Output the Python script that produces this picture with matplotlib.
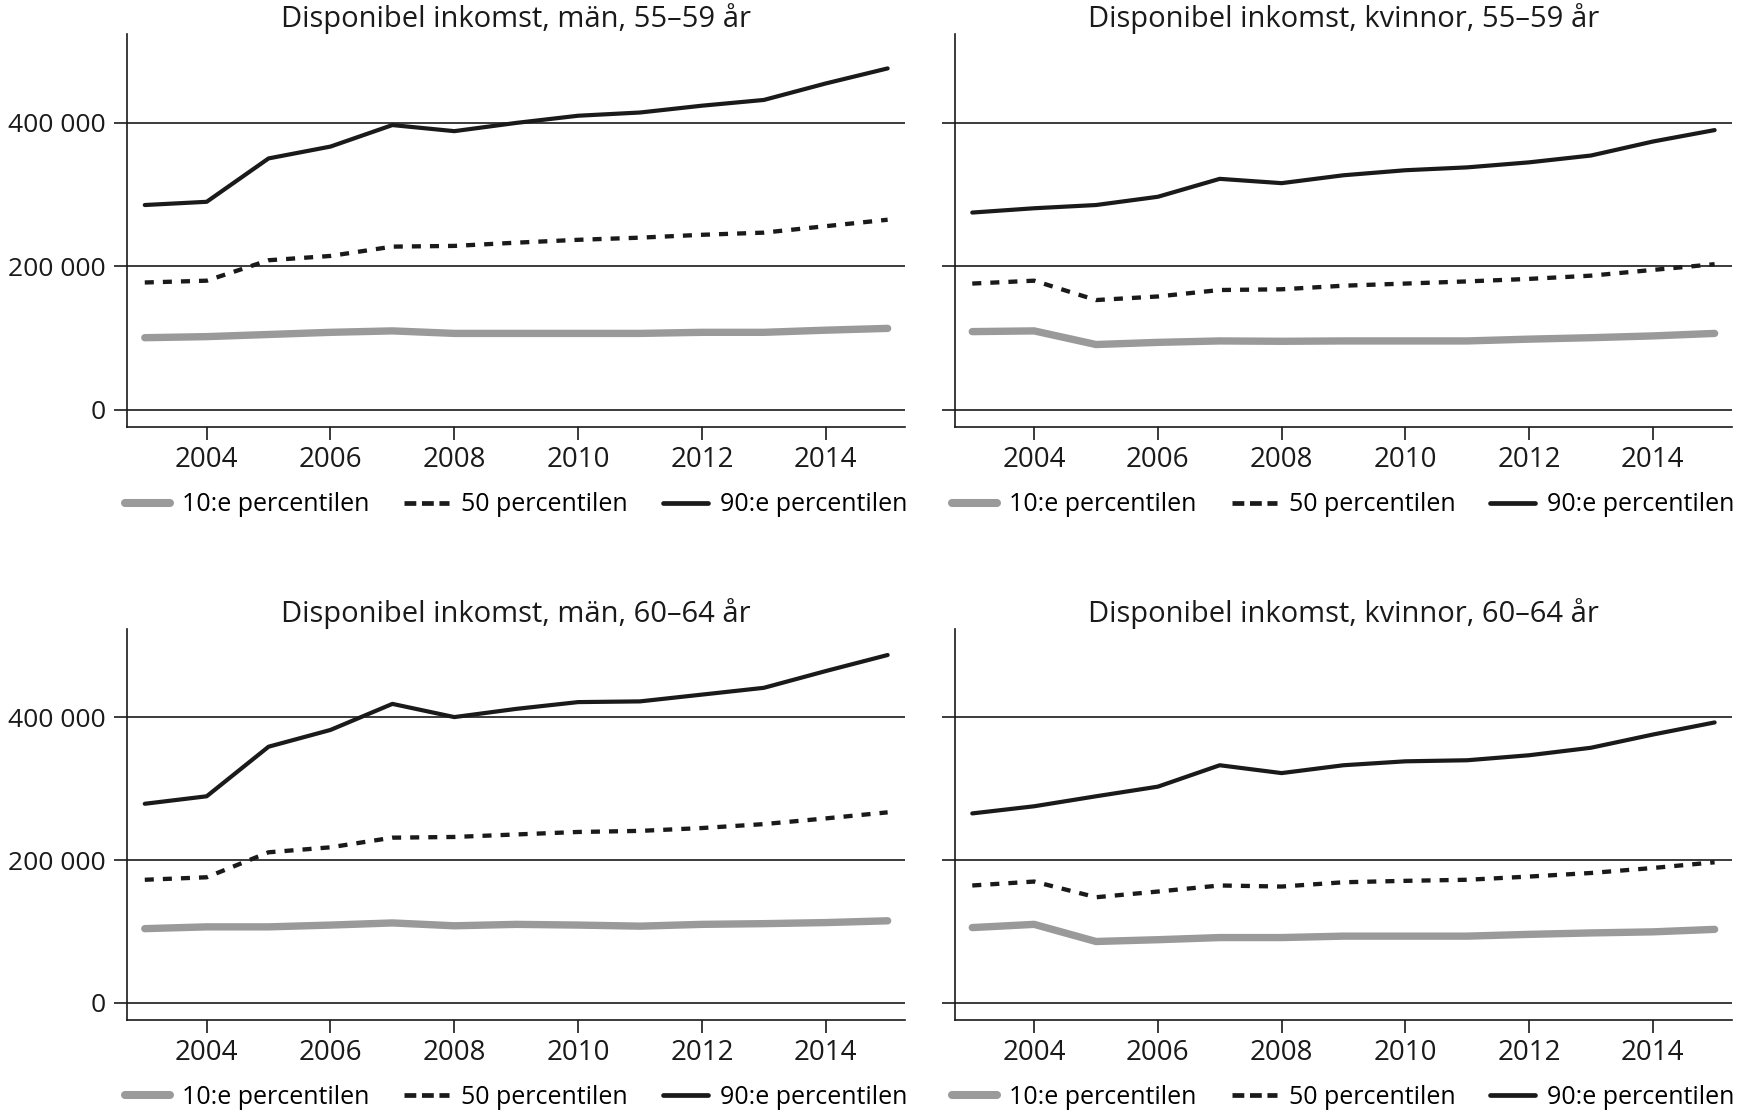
#!/usr/bin/env python
# -*- coding: utf-8 -*-
"""
Disponibel inkomst per percentil, män/kvinnor 55-59 och 60-64 år, 2003-2015.
Fyra paneler i 2x2, legend under varje panel.
"""
from __future__ import annotations

import matplotlib

matplotlib.use("Agg")
import matplotlib.pyplot as plt
from matplotlib.lines import Line2D
from matplotlib.ticker import FuncFormatter

years = list(range(2003, 2016))

men_55_p10 = [100500, 102000, 105000, 108000, 110000, 106500, 106500, 106500, 106500, 108000, 108000, 111000, 113500]
men_55_p50 = [177500, 180000, 208500, 214500, 227500, 228500, 233000, 237000, 240000, 244000, 247000, 256000, 265000]
men_55_p90 = [285500, 290000, 350500, 367000, 397000, 388500, 400000, 410000, 414500, 424000, 432000, 455000, 476000]

women_55_p10 = [109000, 110000, 91000, 94000, 96000, 95500, 96000, 96000, 96000, 98500, 100500, 103000, 106500]
women_55_p50 = [176000, 180000, 153000, 158000, 167000, 168000, 173000, 176000, 179000, 182500, 187000, 195000, 203000]
women_55_p90 = [275000, 281000, 285500, 297000, 322000, 316000, 327000, 334000, 338000, 345000, 354500, 374000, 390000]

men_60_p10 = [104000, 106500, 106500, 109000, 112000, 108000, 110000, 109000, 107500, 110000, 111000, 112500, 115000]
men_60_p50 = [172500, 176000, 211000, 218000, 231500, 232500, 236000, 239500, 241000, 245000, 250500, 258500, 267000]
men_60_p90 = [279000, 289500, 359000, 382500, 419000, 400500, 412000, 421500, 422500, 432000, 441500, 465000, 487500]

women_60_p10 = [105500, 110000, 86000, 88500, 91500, 91500, 93500, 93500, 93500, 96000, 98000, 99500, 103000]
women_60_p50 = [164500, 170000, 148000, 156000, 164500, 163000, 169000, 171000, 172500, 177000, 182000, 189000, 197000]
women_60_p90 = [265500, 275500, 289500, 303000, 333000, 322000, 333000, 338500, 340000, 347000, 357500, 376000, 393000]

titles = [
    "Disponibel inkomst, män, 55–59 år",
    "Disponibel inkomst, kvinnor, 55–59 år",
    "Disponibel inkomst, män, 60–64 år",
    "Disponibel inkomst, kvinnor, 60–64 år",
]
series_labels = ["10:e percentilen", "50 percentilen", "90:e percentilen"]
y_ticks = [0, 200000, 400000]
x_ticks = [2004, 2006, 2008, 2010, 2012, 2014]

GRAY = "#9a9a9a"
INK = "#1a1a1a"

# axes rectangles in figure fractions (left, bottom, width, height)
AX_RECTS = [
    (0.0732, 0.6167, 0.4466, 0.3528),
    (0.5485, 0.6167, 0.4463, 0.3528),
    (0.0732, 0.0844, 0.4466, 0.3510),
    (0.5485, 0.0844, 0.4463, 0.3510),
]


def space_thousands(v, _pos=None):
    return f"{int(round(v)):,}".replace(",", " ")


def legend_handles():
    # legend swatches are drawn a bit differently from the plotted lines
    return [
        Line2D([], [], color=GRAY, lw=5.8, solid_capstyle="round"),
        Line2D([], [], color=INK, lw=3.4, dashes=(2.5, 1.2), dash_capstyle="butt"),
        Line2D([], [], color=INK, lw=3.4, solid_capstyle="round"),
    ]


def draw_panel(ax, title, p10, p50, p90, show_ylabels):
    ax.plot(years, p10, color=GRAY, lw=5.3, solid_capstyle="round",
            solid_joinstyle="round", zorder=3)
    ax.plot(years, p50, color=INK, lw=3.1, dashes=(2.1, 2.1),
            dash_capstyle="butt", zorder=3)
    ax.plot(years, p90, color=INK, lw=3.0, solid_capstyle="round",
            solid_joinstyle="round", zorder=3)

    ax.set_xlim(2002.72, 2015.28)
    ax.set_ylim(-24000, 524000)
    ax.set_xticks(x_ticks)
    ax.set_yticks(y_ticks)
    ax.yaxis.set_major_formatter(FuncFormatter(space_thousands))
    if not show_ylabels:
        ax.tick_params(axis="y", labelleft=False)

    for side in ("top", "right"):
        ax.spines[side].set_visible(False)
    for side in ("left", "bottom"):
        ax.spines[side].set_linewidth(1.2)
        ax.spines[side].set_color(INK)

    ax.tick_params(axis="both", direction="out", length=9.5, width=1.2,
                   color=INK, labelcolor=INK)
    ax.tick_params(axis="y", pad=6, labelsize=19)
    ax.tick_params(axis="x", pad=4, labelsize=20)
    ax.yaxis.grid(True, color=INK, lw=1.2)
    ax.set_axisbelow(True)

    ax.set_title(title, fontsize=21, color=INK, pad=-3.5)
    ax.legend(legend_handles(), series_labels, loc="center",
              bbox_to_anchor=(0.5, -0.198), ncol=3, frameon=False,
              fontsize=18, handlelength=1.8, handletextpad=0.48,
              columnspacing=1.4, borderaxespad=0, borderpad=0)


def main() -> int:
    plt.rcParams["font.family"] = ["Open Sans", "DejaVu Sans"]
    fig = plt.figure(figsize=(17.41, 11.14), dpi=100)
    panels = [
        (men_55_p10, men_55_p50, men_55_p90),
        (women_55_p10, women_55_p50, women_55_p90),
        (men_60_p10, men_60_p50, men_60_p90),
        (women_60_p10, women_60_p50, women_60_p90),
    ]
    for i, (rect, title, data) in enumerate(zip(AX_RECTS, titles, panels)):
        ax = fig.add_axes(rect)
        draw_panel(ax, title, *data, show_ylabels=(i % 2 == 0))
    fig.savefig("out.png", dpi=100)
    plt.close(fig)
    return 0


if __name__ == "__main__":
    raise SystemExit(main())
